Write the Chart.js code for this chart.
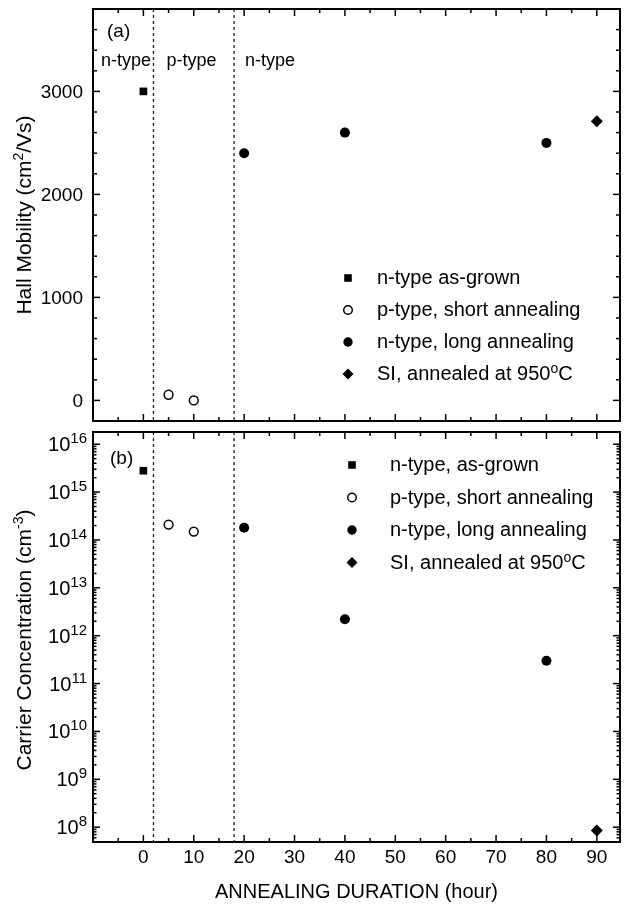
<!DOCTYPE html>
<html>
<head>
<meta charset="utf-8">
<script src="https://cdn.jsdelivr.net/npm/chart.js@4.4.0/dist/chart.umd.min.js"></script>
<style>
  html, body { margin: 0; padding: 0; background: #fff; }
  #wrap { position: relative; width: 626px; height: 905px; }
  #top { position: absolute; left: 0; top: 0; }
  #bot { position: absolute; left: 0; top: 426px; }
</style>
</head>
<body>
<div id="wrap">
  <canvas id="top" width="626" height="427"></canvas>
  <canvas id="bot" width="626" height="479"></canvas>
</div>
<script>
// ---- data ----
const asGrownHours = [0];
const asGrownMobility = [3000];
const asGrownCarrier = [2.8e15];

const shortHours = [5, 10];
const shortMobility = [55, 0];
const shortCarrier = [2.1e14, 1.5e14];

const longHours = [20, 40, 80];
const longMobility = [2400, 2600, 2500];
const longCarrier = [1.8e14, 2.2e12, 3.0e11];

const siHours = [90];
const siMobility = [2710];
const siCarrier = [8.5e7];

// type boundaries (dotted lines), hours
const boundaryHours = [2, 18];

// ticks
const xMajorTicks = [0, 10, 20, 30, 40, 50, 60, 70, 80, 90];
const xMinorTicks = [-5, 5, 15, 25, 35, 45, 55, 65, 75, 85];
const mobilityTicks = [0, 1000, 2000, 3000];
const carrierExponents = [8, 9, 10, 11, 12, 13, 14, 15, 16];

const topLegend = ['n-type as-grown', 'p-type, short annealing', 'n-type, long annealing', 'SI, annealed at 950^{o}C'];
const botLegend = ['n-type, as-grown', 'p-type, short annealing', 'n-type, long annealing', 'SI, annealed at 950^{o}C'];
const regionLabels = ['n-type', 'p-type', 'n-type'];

const FONT = "'Liberation Sans', Arial, Helvetica, sans-serif";

function pts(xs, ys) {
  return xs.map((x, i) => ({ x: x, y: ys[i] }));
}

function makeSets(labels, ys) {
  return [
    { label: labels[0], data: pts(asGrownHours, ys[0]), pointStyle: 'rect', pointRadius: 5.4,
      backgroundColor: '#000', borderColor: '#000', borderWidth: 0 },
    { label: labels[1], data: pts(shortHours, ys[1]), pointStyle: 'circle', pointRadius: 4.4,
      backgroundColor: '#fff', borderColor: '#000', borderWidth: 1.5 },
    { label: labels[2], data: pts(longHours, ys[2]), pointStyle: 'circle', pointRadius: 5,
      backgroundColor: '#000', borderColor: '#000', borderWidth: 0 },
    { label: labels[3], data: pts(siHours, ys[3]), pointStyle: 'rectRot', pointRadius: 6,
      backgroundColor: '#000', borderColor: '#000', borderWidth: 0 }
  ];
}

// text with ^{superscript} pieces
function drawRich(ctx, str, x, y, size, align, supSize, raise) {
  const parts = [];
  const re = /\^\{([^}]*)\}/g;
  let last = 0, m;
  while ((m = re.exec(str))) {
    if (m.index > last) parts.push({ t: str.slice(last, m.index), sup: false });
    parts.push({ t: m[1], sup: true });
    last = re.lastIndex;
  }
  if (last < str.length) parts.push({ t: str.slice(last), sup: false });
  supSize = supSize || Math.round(size * 0.7);
  raise = raise || size * 0.4;
  let w = 0;
  parts.forEach(p => {
    ctx.font = (p.sup ? supSize : size) + 'px ' + FONT;
    p.w = ctx.measureText(p.t).width;
    w += p.w;
  });
  let cx = align === 'right' ? x - w : align === 'center' ? x - w / 2 : x;
  ctx.textAlign = 'left';
  ctx.textBaseline = 'alphabetic';
  parts.forEach(p => {
    ctx.font = (p.sup ? supSize : size) + 'px ' + FONT;
    ctx.fillText(p.t, cx, p.sup ? y - raise : y);
    cx += p.w;
  });
}

function drawSymbol(ctx, i, x, y) {
  ctx.save();
  ctx.fillStyle = '#000';
  ctx.strokeStyle = '#000';
  ctx.beginPath();
  if (i === 0) ctx.rect(x - 3.8, y - 3.8, 7.6, 7.6);
  else if (i === 1) ctx.arc(x, y, 4.3, 0, Math.PI * 2);
  else if (i === 2) ctx.arc(x, y, 4.7, 0, Math.PI * 2);
  else {
    ctx.moveTo(x - 5.5, y); ctx.lineTo(x, y - 5.5); ctx.lineTo(x + 5.5, y); ctx.lineTo(x, y + 5.5);
    ctx.closePath();
  }
  if (i === 1) { ctx.fillStyle = '#fff'; ctx.fill(); ctx.lineWidth = 1.5; ctx.stroke(); }
  else ctx.fill();
  ctx.restore();
}

function line(ctx, x1, y1, x2, y2) {
  ctx.beginPath(); ctx.moveTo(x1, y1); ctx.lineTo(x2, y2); ctx.stroke();
}

const panelPlugin = {
  id: 'panel',
  beforeDatasetsDraw(chart) {
    const { ctx, chartArea: a, scales: { x } } = chart;
    ctx.save();
    ctx.strokeStyle = '#222';
    ctx.lineWidth = 1.3;
    ctx.setLineDash([3, 3]);
    boundaryHours.forEach(h => {
      const px = x.getPixelForValue(h);
      line(ctx, px, a.top, px, a.bottom);
    });
    ctx.restore();
  },
  afterDatasetsDraw(chart, args, opts) {
    const { ctx, chartArea: a, scales: { x, y } } = chart;
    const top = opts.kind === 'top';
    ctx.save();
    ctx.strokeStyle = '#000';
    ctx.fillStyle = '#000';
    ctx.lineWidth = 2;
    ctx.strokeRect(a.left, a.top, a.right - a.left, a.bottom - a.top);

    // inward ticks
    ctx.lineWidth = 1.5;
    const xt = (v, len) => {
      const px = x.getPixelForValue(v);
      if (px <= a.left + 1 || px >= a.right - 1) return;
      line(ctx, px, a.bottom, px, a.bottom - len);
      line(ctx, px, a.top, px, a.top + len);
    };
    xMajorTicks.forEach(v => xt(v, 7));
    xMinorTicks.forEach(v => xt(v, 4));
    const yt = (v, len) => {
      const py = y.getPixelForValue(v);
      if (py <= a.top + 1 || py >= a.bottom - 1) return;
      line(ctx, a.left, py, a.left + len, py);
      line(ctx, a.right, py, a.right - len, py);
    };
    if (top) {
      mobilityTicks.forEach(v => yt(v, 7));
      for (let v = y.min; v <= y.max; v += 200) if (v % 1000 !== 0) yt(v, 4);
      ctx.textAlign = 'right';
      ctx.textBaseline = 'alphabetic';
      ctx.font = '19px ' + FONT;
      mobilityTicks.forEach(v => ctx.fillText(String(v), a.left - 10, y.getPixelForValue(v) + 7));
    } else {
      carrierExponents.forEach(e => yt(Math.pow(10, e), 7));
      for (let e = 7; e <= 16; e++) for (let k = 2; k <= 9; k++) {
        const v = k * Math.pow(10, e);
        if (v > y.min && v < y.max) yt(v, 3.5);
      }
      carrierExponents.forEach(e => drawRich(ctx, '10^{' + e + '}', a.left - 6, y.getPixelForValue(Math.pow(10, e)) + 7, 20, 'right', 15, 8));
      // x tick labels + title
      ctx.font = '19px ' + FONT;
      ctx.textAlign = 'center';
      xMajorTicks.forEach(v => ctx.fillText(String(v), x.getPixelForValue(v), a.bottom + 21));
      ctx.font = '20px ' + FONT;
      ctx.fillText('ANNEALING DURATION (hour)', (a.left + a.right) / 2, a.bottom + 56);
    }

    // y title
    ctx.save();
    ctx.translate(23, top ? 215 : 214);
    ctx.rotate(-Math.PI / 2);
    drawRich(ctx, top ? 'Hall Mobility (cm^{2}/Vs)' : 'Carrier Concentration (cm^{-3})', 0, 7.5, 21, 'center', 14, 8);
    ctx.restore();

    // panel letter and region labels
    ctx.textAlign = 'left';
    ctx.textBaseline = 'alphabetic';
    ctx.font = '19px ' + FONT;
    if (top) {
      ctx.fillText('(a)', a.left + 14, a.top + 28);
      ctx.font = '18px ' + FONT;
      ctx.fillText(regionLabels[0], a.left + 8, 66);
      ctx.fillText(regionLabels[1], x.getPixelForValue(boundaryHours[0]) + 13, 66);
      ctx.fillText(regionLabels[2], x.getPixelForValue(boundaryHours[1]) + 11, 66);
    } else {
      ctx.fillText('(b)', a.left + 17, a.top + 32);
    }

    // legend
    const labels = top ? topLegend : botLegend;
    const sx = top ? 348 : 352, tx = top ? 377 : 390;
    const y0 = top ? 278 : 39, dy = top ? 32 : 32.5;
    labels.forEach((lab, i) => {
      const ly = y0 + i * dy;
      drawSymbol(ctx, i, sx, ly);
      drawRich(ctx, lab, tx, ly + 6, 20, 'left', 14, 7);
    });
    ctx.restore();
  }
};

function makeChart(id, kind, sets, yScale, padding) {
  return new Chart(document.getElementById(id), {
    type: 'scatter',
    data: { datasets: sets },
    options: {
      responsive: false,
      animation: false,
      events: [],
      layout: { padding: padding },
      scales: {
        x: { type: 'linear', min: -10, max: 94.6, display: false },
        y: yScale
      },
      plugins: {
        legend: { display: false },
        tooltip: { enabled: false },
        panel: { kind: kind }
      }
    },
    plugins: [panelPlugin]
  });
}

makeChart('top', 'top',
  makeSets(topLegend, [asGrownMobility, shortMobility, longMobility, siMobility]),
  { type: 'linear', min: -200, max: 3800, display: false },
  { left: 93, top: 9, right: 1, bottom: 1 });

makeChart('bot', 'bottom',
  makeSets(botLegend, [asGrownCarrier, shortCarrier, longCarrier, siCarrier]),
  { type: 'logarithmic', min: 4.9e7, max: 1.8e16, display: false },
  { left: 93, top: 0.5, right: 1, bottom: 63 });
</script>
</body>
</html>
